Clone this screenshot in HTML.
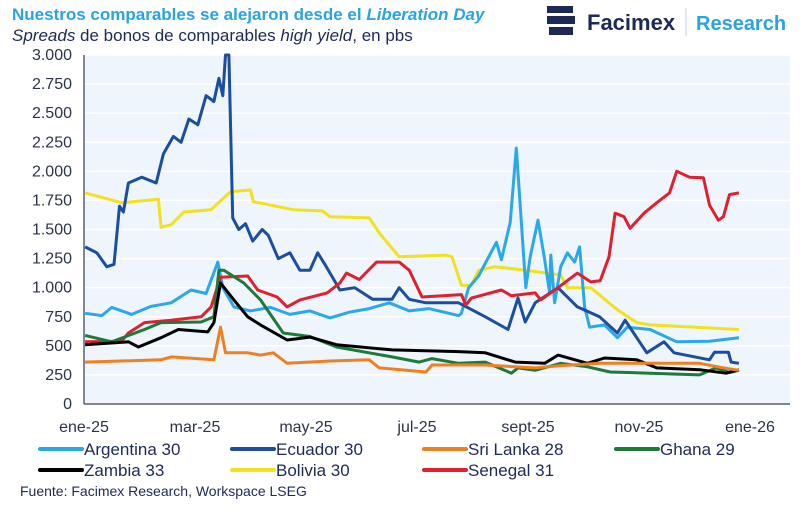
<!DOCTYPE html>
<html><head><meta charset="utf-8">
<style>
body{margin:0;background:#fff;width:800px;height:510px;overflow:hidden;font-family:"Liberation Sans",sans-serif;}
svg{display:block}
</style></head>
<body>
<svg id="chart" width="800" height="510" viewBox="0 0 800 510">
  <text x="12" y="20" font-size="17" font-weight="bold" fill="#2aa3e3">Nuestros comparables se alejaron desde el <tspan font-style="italic">Liberation Day</tspan></text>
  <text x="12" y="41" font-size="17" fill="#1c2a55"><tspan font-style="italic">Spreads</tspan> de bonos de comparables <tspan font-style="italic">high yield</tspan>, en pbs</text>
  <g>
    <path d="M547 6 h26 v7 h-26 z M547 16 h28 v8 h-28 z M549 27 h24 v8 h-24 z" fill="#1c2a55"/>
    <text x="587" y="30" font-size="22" font-weight="bold" fill="#1c2a55">Facimex</text>
    <line x1="686" y1="8" x2="686" y2="36" stroke="#c8cfd8" stroke-width="1"/>
    <text x="696" y="30" font-size="20" font-weight="bold" fill="#2aa3e3">Research</text>
  </g>
  <rect x="84" y="55" width="706" height="349" fill="#eef5fc"/>
  <g id="grid"></g>
  <g id="yticks"></g>
  <g id="xticks"></g>
  <g id="series"></g>
  <line x1="84" y1="55" x2="84" y2="404" stroke="#5a6270" stroke-width="1.5"/>
  <line x1="84" y1="404" x2="790" y2="404" stroke="#5a6270" stroke-width="1.5"/>
  <g id="legend"></g>
  <text x="20" y="496" font-size="14" fill="#1c2a55">Fuente: Facimex Research, Workspace LSEG</text>
</svg>
<script>
const yTicks=[0,250,500,750,1000,1250,1500,1750,2000,2250,2500,2750,3000];
const xTickMonths=[0,2,4,6,8,10,12];
const xTickLabels=["ene-25","mar-25","may-25","jul-25","sept-25","nov-25","ene-26"];
const seriesNames=["Bolivia 30","Argentina 30","Ecuador 30","Senegal 31","Ghana 29","Zambia 33","Sri Lanka 28"];
const seriesColors=["#f2e21c","#2aa8ea","#1c4e9e","#e0202e","#1e7a3a","#000000","#f07f1f"];

const bolT=[0.02,0.68,1.34,1.39,1.57,1.8,2.29,2.64,3.0,3.05,3.77,4.3,4.43,5.14,5.32,5.68,6.52,6.63,6.8,6.98,7.11,7.41,7.95,8.59,8.71,9.13,9.61,9.96,10.2,11.8];
const bolV=[1815,1730,1760,1520,1540,1650,1670,1825,1840,1740,1670,1660,1610,1600,1470,1265,1280,1265,1020,1020,1150,1180,1150,1110,1000,1000,810,700,680,640];
const argT=[0.02,0.32,0.5,0.86,1.21,1.57,1.93,2.2,2.41,2.5,2.7,3.0,3.36,3.71,4.07,4.43,4.79,5.14,5.5,5.86,6.21,6.75,6.8,6.93,7.11,7.43,7.52,7.68,7.79,7.96,8.04,8.18,8.3,8.39,8.41,8.48,8.59,8.71,8.84,8.93,9.02,9.11,9.38,9.61,9.79,10.2,10.68,11.27,11.8];
const argV=[780,760,830,770,840,870,980,950,1220,1000,835,800,830,770,800,740,790,820,870,800,820,760,780,1000,1100,1390,1240,1560,2200,1000,1265,1580,1240,955,1280,870,1180,1300,1220,1350,835,660,680,570,660,640,535,540,570];
const ecuT=[0.02,0.23,0.41,0.54,0.64,0.71,0.8,1.04,1.3,1.43,1.61,1.75,1.89,2.05,2.2,2.34,2.43,2.5,2.55,2.61,2.68,2.79,2.91,3.04,3.21,3.32,3.5,3.71,3.89,4.07,4.21,4.34,4.61,4.88,5.2,5.55,5.68,5.86,6.16,6.75,7.23,7.64,7.82,7.95,8.13,8.54,8.89,9.29,9.61,9.75,10.14,10.45,10.63,11.27,11.36,11.61,11.66,11.8];
const ecuV=[1350,1300,1180,1200,1700,1650,1900,1950,1900,2150,2300,2250,2450,2400,2650,2600,2800,2650,3000,3000,1600,1500,1550,1400,1500,1450,1250,1300,1150,1150,1300,1200,980,1000,900,900,1000,900,870,870,750,640,910,705,870,1000,835,750,610,720,440,535,440,380,445,445,360,350];
const senT=[0.02,0.68,0.8,1.09,1.57,2.11,2.29,2.46,2.95,3.13,3.48,3.66,3.89,4.38,4.61,4.73,4.96,5.27,5.68,5.86,6.09,6.8,6.88,6.98,7.52,7.7,8.13,8.23,8.54,8.89,9.13,9.3,9.46,9.57,9.73,9.84,10.09,10.32,10.55,10.68,10.91,11.16,11.27,11.43,11.52,11.63,11.8];
const senV=[535,540,610,700,720,750,835,1090,1100,980,920,835,895,955,1040,1125,1070,1220,1220,1150,920,940,850,910,980,930,955,895,1000,1125,1050,1060,1265,1640,1610,1510,1640,1730,1815,2000,1950,1945,1710,1580,1610,1800,1815];
const ghaT=[0.02,0.5,1.09,1.39,2.11,2.34,2.43,2.52,2.88,3.18,3.59,4.07,4.55,5.55,6.04,6.27,6.75,7.23,7.7,7.82,8.13,8.59,9.07,9.48,10.2,11.09,11.39,11.63,11.8];
const ghaV=[590,535,640,700,705,750,1150,1150,1040,895,610,580,490,405,360,390,350,360,265,310,290,350,320,275,265,250,310,270,290];
const zamT=[0.02,0.8,0.98,1.39,1.7,2.23,2.34,2.46,2.7,2.95,3.18,3.66,4.07,4.55,5.55,6.75,7.23,7.77,8.3,8.54,9.07,9.38,9.96,10.32,11.09,11.57,11.8];
const zamV=[510,535,490,570,640,620,700,1040,895,750,680,550,575,510,465,450,440,360,350,420,350,395,380,310,295,265,295];
const sriT=[0.02,1.39,1.57,2.34,2.46,2.55,2.95,3.18,3.41,3.66,4.43,5.14,5.32,6.16,6.27,7.23,8.13,8.59,9.3,11.09,11.52,11.8];
const sriV=[360,380,405,380,660,440,440,420,440,350,370,380,310,275,335,335,310,330,350,350,310,290];

const seriesT=[bolT,argT,ecuT,senT,ghaT,zamT,sriT];
const seriesV=[bolV,argV,ecuV,senV,ghaV,zamV,sriV];

const NS="http://www.w3.org/2000/svg";
function xScale(t){return 84+t*55.5;}
function yScale(v){return 404-v/3000*349;}
function mk(tag,attrs,parent){const e=document.createElementNS(NS,tag);for(const k in attrs)e.setAttribute(k,attrs[k]);parent.appendChild(e);return e;}

const grid=document.getElementById('grid'),yt=document.getElementById('yticks'),xt=document.getElementById('xticks');
yTicks.forEach(v=>{
  if(v>0){const g=mk('line',{x1:84,x2:790,y1:yScale(v),y2:yScale(v),stroke:'#ffffff','stroke-width':1.5},grid);
  
  }
  const t=mk('text',{x:72,y:yScale(v)+5,'text-anchor':'end','font-size':16,fill:'#2b3348'},yt);
  t.textContent=v.toLocaleString('de-DE');
  
  
});
xTickMonths.forEach((m,i)=>{
  const t=mk('text',{x:xScale(m),y:432,'text-anchor':'middle','font-size':16,fill:'#2b3348'},xt);
  t.textContent=xTickLabels[i];
  
  
});
const sg=document.getElementById('series');
seriesT.forEach((ts,i)=>{
  const d=ts.map((t,j)=>(j?'L':'M')+xScale(t).toFixed(1)+' '+yScale(seriesV[i][j]).toFixed(1)).join(' ');
  const p=mk('path',{d:d,fill:'none',stroke:seriesColors[i],'stroke-width':3,'stroke-linejoin':'round'},sg);
  
  
});
const legendOrder=["Argentina 30","Ecuador 30","Sri Lanka 28","Ghana 29","Zambia 33","Bolivia 30","Senegal 31"];
const legX=[40,232,424,616,40,232,424];
const legY=[449,449,449,449,470,470,470];
const lg=document.getElementById('legend');
legendOrder.forEach((n,i)=>{
  const c=seriesColors[seriesNames.indexOf(n)];
  const g=mk('g',{},lg);
  
  
  mk('line',{x1:legX[i],x2:legX[i]+42,y1:legY[i],y2:legY[i],stroke:c,'stroke-width':4,'stroke-linecap':'round'},g);
  const t=mk('text',{x:legX[i]+44,y:legY[i]+6,'font-size':17,fill:'#1c2a55'},g);
  t.textContent=n;
});
</script>
</body></html>
